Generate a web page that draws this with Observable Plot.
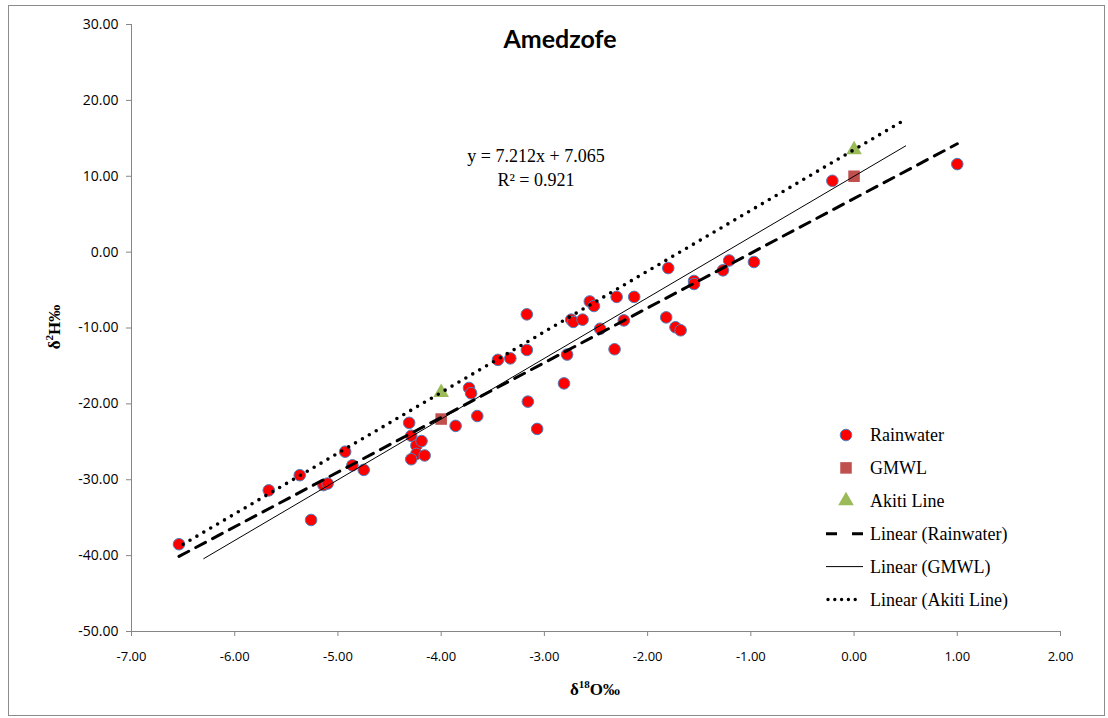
<!DOCTYPE html>
<html><head><meta charset="utf-8">
<script src="https://cdn.jsdelivr.net/npm/d3@7"></script>
<script src="https://cdn.jsdelivr.net/npm/@observablehq/plot@0.6"></script>
<style>body{margin:0;background:#fff}#chart{width:1108px;height:718px}</style>
</head><body><div id="chart"></div>
<script>
// ---- data ----
const xTicks = [-7, -6, -5, -4, -3, -2, -1, 0, 1, 2];
const yTicks = [-50, -40, -30, -20, -10, 0, 10, 20, 30];

const rainX = [-6.54,-5.67,-5.37,-5.26,-5.14,-5.10,-4.93,-4.86,-4.75,-4.31,-4.29,-4.24,-4.19,-4.24,-4.29,-4.16,
  -3.86,-3.73,-3.71,-3.65,-3.45,-3.33,-3.17,-3.17,-3.16,-3.07,-2.81,-2.78,-2.74,-2.72,-2.63,-2.56,-2.52,-2.46,
  -2.32,-2.30,-2.23,-2.13,-1.82,-1.73,-1.68,-1.80,-1.55,-1.55,-1.27,-1.21,-0.97,-0.21,1.00];
const rainY = [-38.5,-31.4,-29.4,-35.3,-30.7,-30.5,-26.3,-28.1,-28.7,-22.5,-24.2,-25.5,-24.9,-26.6,-27.3,-26.8,
  -22.9,-17.9,-18.6,-21.6,-14.2,-14.0,-8.2,-12.9,-19.7,-23.3,-17.3,-13.5,-8.9,-9.2,-8.9,-6.5,-7.1,-10.1,
  -12.8,-5.9,-9.0,-5.9,-8.6,-9.9,-10.3,-2.1,-3.8,-4.2,-2.4,-1.1,-1.3,9.4,11.6];

const gmwlX = [-4, 0];
const gmwlY = [-22, 10];
const akitiX = [-4, 0];
const akitiY = [-18.5, 13.5];

// trend line end points
const trendRainX = [-6.54, 1.00];
const trendRainY = [-40.10, 14.28];
const trendGmwlX = [-6.30, 0.50];
const trendGmwlY = [-40.40, 14.00];
const trendAkitiX = [-6.50, 0.50];
const trendAkitiY = [-38.50, 17.50];

const titleText = "Amedzofe";
const equationLines = ["y = 7.212x + 7.065", "R² = 0.921"];
const legendLabels = ["Rainwater", "GMWL", "Akiti Line", "Linear (Rainwater)", "Linear (GMWL)", "Linear (Akiti Line)"];

// ---- build tables ----
const zip = (xs, ys) => xs.map((x, i) => ({x, y: ys[i]}));
const rain = zip(rainX, rainY);
const gmwl = zip(gmwlX, gmwlY);
const akiti = zip(akitiX, akitiY);
const tRain = zip(trendRainX, trendRainY);
const tGmwl = zip(trendGmwlX, trendGmwlY);
const tAkiti = zip(trendAkitiX, trendAkitiY);

const axisColor = "#868686";
const fmt = d => d.toFixed(2);
const dotR = 5.8, sqR = 6.5, triR = 5.8;

const plot = Plot.plot({
  width: 1108, height: 718,
  marginLeft: 131, marginRight: 48, marginTop: 24, marginBottom: 87,
  x: {domain: [-7, 2]},
  y: {domain: [-50, 30]},
  style: {fontFamily: "'Open Sans', sans-serif", background: "#fff", color: "#000"},
  marks: [
    Plot.ruleX([-7], {stroke: axisColor}),
    Plot.ruleY([-50], {stroke: axisColor}),
    Plot.axisX({ticks: xTicks, tickSize: 5, tickPadding: 15, tickFormat: fmt, stroke: axisColor, fill: "#000", fontSize: 13, label: null}),
    Plot.axisY({ticks: yTicks, tickSize: 5, tickPadding: 8, tickFormat: fmt, stroke: axisColor, fill: "#000", fontSize: 14, label: null}),
    Plot.dot(rain, {x: "x", y: "y", r: dotR, fill: "#FF0000", stroke: "#4F81BD", strokeWidth: 1}),
    Plot.dot(gmwl, {x: "x", y: "y", symbol: "square", r: sqR, fill: "#C0504D", stroke: "none"}),
    Plot.dot(akiti, {x: "x", y: "y", symbol: "triangle", r: triR, fill: "#9BBB59", stroke: "none"}),
    Plot.line(tRain, {x: "x", y: "y", stroke: "#000", strokeWidth: 3, strokeDasharray: "11,8"}),
    Plot.line(tGmwl, {x: "x", y: "y", stroke: "#000", strokeWidth: 1}),
    Plot.line(tAkiti, {x: "x", y: "y", stroke: "#000", strokeWidth: 3.6, strokeDasharray: "0,8", strokeLinecap: "round"})
  ]
});

const svg = d3.select(plot);

// outer border
svg.append("rect").attr("x", 8.5).attr("y", 5.5).attr("width", 1096).attr("height", 710)
  .attr("fill", "none").attr("stroke", "#8c8c8c");

// title
svg.append("text").attr("x", 560).attr("y", 48).attr("text-anchor", "middle")
  .attr("font-family", "Lato, sans-serif").attr("font-weight", "bold").attr("font-size", 25)
  .attr("fill", "#000").text(titleText);

// equation
const serif = "'Liberation Serif', 'Times New Roman', serif";
equationLines.forEach((t, i) => {
  svg.append("text").attr("x", 536).attr("y", 162 + i * 23.5).attr("text-anchor", "middle")
    .attr("font-family", serif).attr("font-size", 18).attr("fill", "#000").text(t);
});

// axis titles
const xl = svg.append("text").attr("x", 595).attr("y", 695).attr("text-anchor", "middle")
  .attr("font-family", serif).attr("font-weight", "bold").attr("font-size", 17).attr("fill", "#000");
xl.append("tspan").text("δ");
xl.append("tspan").attr("dy", -7).attr("font-size", 11).text("18");
xl.append("tspan").attr("dy", 7).text("O‰");

const yl = svg.append("text").attr("transform", "translate(60,327) rotate(-90)").attr("text-anchor", "middle")
  .attr("font-family", serif).attr("font-weight", "bold").attr("font-size", 17).attr("fill", "#000");
yl.append("tspan").text("δ");
yl.append("tspan").attr("dy", -7).attr("font-size", 11).text("2");
yl.append("tspan").attr("dy", 7).text("H‰");

// legend
const lg = svg.append("g");
const rowY = i => 435 + i * 32.9;
legendLabels.forEach((label, i) => {
  const y = rowY(i);
  if (i === 0) {
    lg.append("circle").attr("cx", 846).attr("cy", y).attr("r", dotR).attr("fill", "#FF0000").attr("stroke", "#4F81BD");
  } else if (i === 1) {
    lg.append("path").attr("d", d3.symbol(d3.symbolSquare, Math.PI * sqR * sqR)()).attr("transform", `translate(846,${y})`).attr("fill", "#C0504D");
  } else if (i === 2) {
    lg.append("path").attr("d", d3.symbol(d3.symbolTriangle, Math.PI * triR * triR)()).attr("transform", `translate(846,${y})`).attr("fill", "#9BBB59");
  } else {
    const ln = lg.append("line").attr("x1", 826).attr("x2", 863).attr("y1", y).attr("y2", y).attr("stroke", "#000");
    if (i === 3) ln.attr("stroke-width", 3).attr("stroke-dasharray", "11,15");
    if (i === 4) ln.attr("stroke-width", 1);
    if (i === 5) ln.attr("stroke-width", 3.4).attr("stroke-dasharray", "0,6.8").attr("stroke-linecap", "round").attr("x1", 828).attr("x2", 862);
  }
  lg.append("text").attr("x", 870).attr("y", y + 6).attr("text-anchor", "start").attr("font-family", serif).attr("font-size", 18)
    .attr("fill", "#000").text(label);
});

document.getElementById("chart").appendChild(plot);
</script>
</body></html>
